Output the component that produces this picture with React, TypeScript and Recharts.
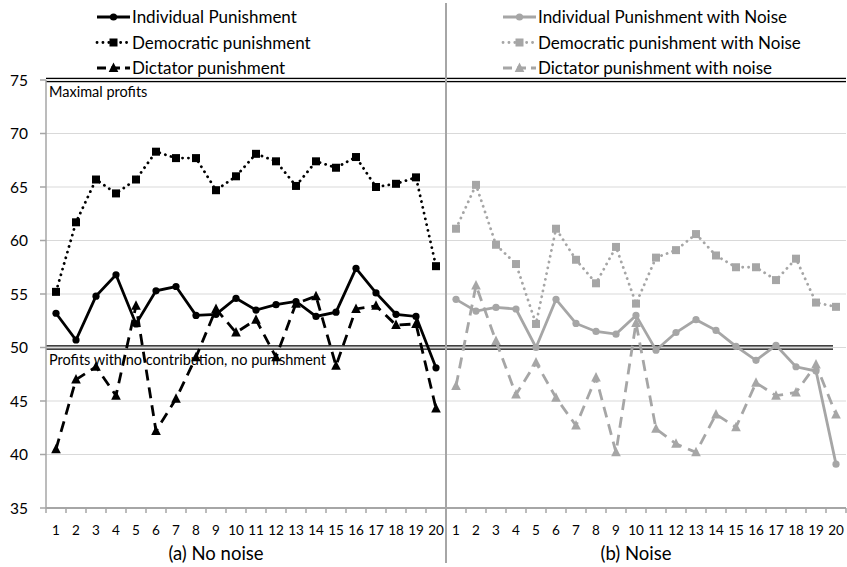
import React from 'react';
import { LineChart, Line, XAxis, YAxis, CartesianGrid, ReferenceLine, Legend } from 'recharts';

// rounds 1..20 shown twice: (a) no noise, (b) noise
const rounds = [1, 2, 3, 4, 5, 6, 7, 8, 9, 10, 11, 12, 13, 14, 15, 16, 17, 18, 19, 20];
const groupLabels = ['(a) No noise', '(b) Noise'];
const groupLabelRound = [9, 10]; // round under which each group label sits
const yTicks = [35, 40, 45, 50, 55, 60, 65, 70, 75];

const individual = [53.2, 50.7, 54.8, 56.8, 52.2, 55.3, 55.7, 53.0, 53.1, 54.6, 53.5, 54.0, 54.3, 52.9, 53.3, 57.4, 55.1, 53.1, 52.9, 48.1];
const democratic = [55.2, 61.7, 65.7, 64.4, 65.7, 68.3, 67.7, 67.7, 64.7, 66.0, 68.1, 67.4, 65.1, 67.4, 66.8, 67.8, 65.0, 65.3, 65.9, 57.6];
const dictator = [40.5, 47.0, 48.2, 45.5, 53.9, 42.2, 45.2, 49.1, 53.6, 51.4, 52.6, 49.1, 54.1, 54.8, 48.3, 53.6, 53.9, 52.1, 52.2, 44.3];

const individualNoise = [54.5, 53.4, 53.75, 53.6, 50.0, 54.5, 52.25, 51.5, 51.25, 53.0, 49.75, 51.4, 52.6, 51.6, 50.1, 48.8, 50.2, 48.2, 47.8, 39.1];
const democraticNoise = [61.1, 65.2, 59.6, 57.8, 52.2, 61.1, 58.2, 56.0, 59.4, 54.1, 58.4, 59.1, 60.6, 58.6, 57.5, 57.5, 56.3, 58.3, 54.2, 53.8];
const dictatorNoise = [46.4, 55.8, 50.6, 45.6, 48.6, 45.3, 42.7, 47.2, 40.2, 52.3, 42.4, 41.0, 40.2, 43.75, 42.55, 46.7, 45.5, 45.8, 48.4, 43.75];

const maxProfit = 75;
const noContribution = 50;

const W = 847;
const H = 567;
const LEFT = 46;
const RIGHT = 1;
const BAND = (W - LEFT - RIGHT) / (rounds.length * 2);

const FONT = 'Lato, "Open Sans", sans-serif';
const BLACK = '#000000';
const GRAY = '#a6a6a6';
const AXIS = '#a6a6a6';
const GRID = '#d9d9d9';

type Marker = 'circle' | 'square' | 'triangle';
type Style = 'solid' | 'dotted' | 'dashed';

const series: { key: string; name: string; color: string; marker: Marker; style: Style; values: number[]; half: 0 | 1 }[] = [
    { key: 'ind', name: 'Individual Punishment', color: BLACK, marker: 'circle', style: 'solid', values: individual, half: 0 },
    { key: 'dem', name: 'Democratic punishment', color: BLACK, marker: 'square', style: 'dotted', values: democratic, half: 0 },
    { key: 'dic', name: 'Dictator punishment', color: BLACK, marker: 'triangle', style: 'dashed', values: dictator, half: 0 },
    { key: 'indN', name: 'Individual Punishment with Noise', color: GRAY, marker: 'circle', style: 'solid', values: individualNoise, half: 1 },
    { key: 'demN', name: 'Democratic punishment with Noise', color: GRAY, marker: 'square', style: 'dotted', values: democraticNoise, half: 1 },
    { key: 'dicN', name: 'Dictator punishment with noise', color: GRAY, marker: 'triangle', style: 'dashed', values: dictatorNoise, half: 1 },
];

const data = [0, 1].flatMap((half) =>
    rounds.map((r, i) => {
        const row: Record<string, number | null> = { idx: half * rounds.length + i };
        series.forEach((s) => {
            row[s.key] = s.half === half ? s.values[i] : null;
        });
        return row;
    })
);

const dash = (style: Style) => (style === 'dotted' ? '0.1 5.8' : style === 'dashed' ? '11 7' : undefined);
const width = (style: Style) => (style === 'dotted' ? 2.8 : 2.8);

const drawMarker = (marker: Marker, cx: number, cy: number, color: string, key?: string) => {
    if (marker === 'circle') return <circle key={key} cx={cx} cy={cy} r={3.6} fill={color} stroke="none" />;
    if (marker === 'square') return <rect key={key} x={cx - 4} y={cy - 4} width={8} height={8} fill={color} stroke="none" />;
    return <path key={key} d={`M${cx},${cy - 5.5} L${cx + 4.8},${cy + 4} L${cx - 4.8},${cy + 4} Z`} fill={color} stroke="none" />;
};

const makeDot = (marker: Marker, color: string) => (props: any) => {
    const { cx, cy, index, value } = props;
    if (value == null || cx == null || cy == null) return <g key={`e-${index}`} />;
    return <g key={`d-${index}`}>{drawMarker(marker, cx, cy, color)}</g>;
};

const XTick = (props: any) => {
    const { x, y, payload } = props;
    const idx: number = payload.value;
    const half = BAND / 2;
    const group = Math.floor(idx / rounds.length);
    const round = rounds[idx % rounds.length];
    return (
        <g>
            <line x1={x - half} y1={y} x2={x - half} y2={y + 5} stroke={AXIS} strokeWidth={1.5} />
            {idx === rounds.length * 2 - 1 && <line x1={x + half} y1={y} x2={x + half} y2={y + 5} stroke={AXIS} strokeWidth={1.5} />}
            <text x={x} y={y + 27} textAnchor="middle" fontSize={13.5} fontFamily={FONT} fill="#000">
                {round}
            </text>
            {round === groupLabelRound[group] && (
                <text x={x} y={y + 52} textAnchor="middle" fontSize={18.5} fontFamily={FONT} fill="#000">
                    {groupLabels[group]}
                </text>
            )}
        </g>
    );
};

const doubleLine = (label: string, shorten: number) => (props: any) => {
    const { x1, x2, y1 } = props;
    return (
        <g>
            <line x1={x1} x2={x2 - shorten} y1={y1 - 1.7} y2={y1 - 1.7} stroke="#000" strokeWidth={1.3} />
            <line x1={x1} x2={x2 - shorten} y1={y1 + 1.7} y2={y1 + 1.7} stroke="#000" strokeWidth={1.3} />
            <text x={x1 + 3} y={y1 + 17} fontSize={14.5} fontFamily={FONT} fill="#000">
                {label}
            </text>
        </g>
    );
};

const divider = (props: any) => {
    const { x1 } = props;
    const x = x1 + BAND / 2;
    return <line x1={x} x2={x} y1={3} y2={H - 4} stroke={AXIS} strokeWidth={2} />;
};

const LegendBox = () => (
    <svg width={W} height={80} style={{ display: 'block' }}>
        {series.map((s, i) => {
            const x0 = s.half === 0 ? 97 : 503;
            const cy = 17 + (i % 3) * 25.5;
            return (
                <g key={s.key}>
                    <line
                        x1={x0}
                        x2={x0 + 33}
                        y1={cy}
                        y2={cy}
                        stroke={s.color}
                        strokeWidth={width(s.style)}
                        strokeDasharray={s.style === 'dashed' ? '9 5' : dash(s.style)}
                        strokeLinecap={s.style === 'dotted' ? 'round' : 'butt'}
                    />
                    {drawMarker(s.marker, x0 + 16.5, cy, s.color)}
                    <text x={x0 + 35} y={cy + 6} fontSize={17} fontFamily={FONT} fill="#000">
                        {s.name}
                    </text>
                </g>
            );
        })}
    </svg>
);

export default function App() {
    return (
        <div style={{ position: 'absolute', left: 0, top: 0, width: W, height: H, background: '#fff' }}>
            <LineChart width={W} height={H} data={data} margin={{ top: 80, right: RIGHT, left: 0, bottom: 0 }}>
                <CartesianGrid vertical={false} stroke={GRID} strokeWidth={1.2} />
                <XAxis
                    dataKey="idx"
                    type="category"
                    scale="band"
                    interval={0}
                    height={59}
                    tickSize={0}
                    tickMargin={0}
                    tickLine={false}
                    axisLine={{ stroke: AXIS, strokeWidth: 2 }}
                    tick={<XTick />}
                />
                <YAxis
                    domain={[35, 75]}
                    ticks={yTicks}
                    width={LEFT}
                    tickSize={6}
                    tickMargin={12}
                    axisLine={{ stroke: AXIS, strokeWidth: 1.5 }}
                    tickLine={{ stroke: AXIS, strokeWidth: 1.5 }}
                    tick={{ fill: '#000', fontSize: 15.5, fontFamily: FONT }}
                    allowDataOverflow
                />
                <ReferenceLine y={maxProfit} shape={doubleLine('Maximal profits', 0)} />
                <ReferenceLine y={noContribution} shape={doubleLine('Profits with no contribution, no punishment', 13)} />
                <ReferenceLine x={rounds.length - 1} shape={divider} />
                <Legend
                    layout="horizontal"
                    verticalAlign="middle"
                    align="center"
                    wrapperStyle={{ position: 'absolute', top: 0, left: 0, width: W, height: 80 }}
                    content={() => <LegendBox />}
                />
                {series.map((s) => (
                    <Line
                        key={s.key}
                        dataKey={s.key}
                        name={s.name}
                        type="linear"
                        stroke={s.color}
                        strokeWidth={width(s.style)}
                        strokeDasharray={dash(s.style)}
                        strokeLinecap={s.style === 'dotted' ? 'round' : 'butt'}
                        dot={makeDot(s.marker, s.color)}
                        activeDot={false}
                        connectNulls={false}
                        isAnimationActive={false}
                    />
                ))}
            </LineChart>
        </div>
    );
}
